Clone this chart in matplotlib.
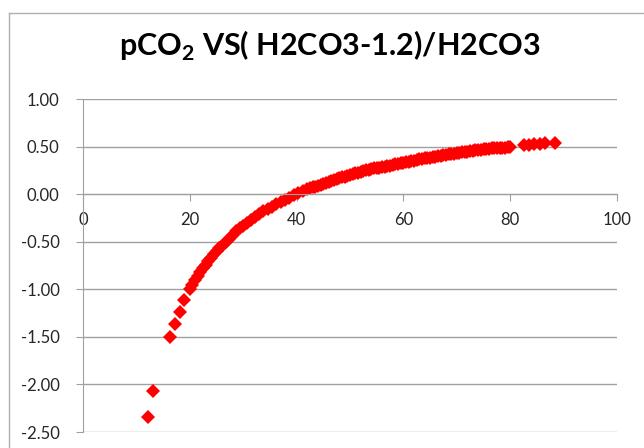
import matplotlib
matplotlib.use('Agg')
import matplotlib.pyplot as plt
from matplotlib.lines import Line2D

# pCO2 vs (H2CO3-1.2)/H2CO3
pco2 = [12.1, 13.1, 16.3, 17.2, 18.1, 19.0, 20.0,
        20.5, 21, 21.5, 22, 22.5, 23, 23.5, 24, 24.5, 25, 25.5, 26,
        26.7, 27.3, 28, 28.7, 29.4, 30, 30.8, 31.5, 32.3, 33, 33.8,
        34.6, 35.4, 36.2, 37, 37.8, 38.6, 39.5, 40.3, 41.2, 42, 42.5,
        43, 43.5, 44, 44.5, 45, 45.5, 46, 46.5, 47, 47.5, 48, 48.5,
        49, 49.5, 50, 50.5, 51, 51.5, 52, 52.5, 53, 53.5, 54, 54.5,
        55, 55.5, 56, 56.5, 57, 57.5, 58, 58.5, 59, 59.5, 60, 60.5,
        61, 61.5, 62, 62.5, 63, 63.5, 64, 64.5, 65, 65.5, 66, 66.5,
        67, 67.5, 68, 68.5, 69, 69.5, 70, 70.5, 71, 71.5, 72, 72.5,
        73, 73.5, 74, 74.5, 75, 75.5, 76, 76.5, 77, 77.5, 78, 78.5,
        79, 79.5, 80, 82.5, 83.5, 84.5, 85.5, 86.5, 88.3]
ratio = [-2.34, -2.07, -1.50, -1.37, -1.24, -1.11, -1.00,
         -0.95, -0.90, -0.86, -0.82, -0.78, -0.74, -0.70, -0.67, -0.63,
         -0.60, -0.57, -0.54, -0.50, -0.47, -0.43, -0.39, -0.36, -0.33,
         -0.30, -0.27, -0.24, -0.21, -0.18, -0.16, -0.13, -0.10, -0.08,
         -0.06, -0.04, -0.01, 0.01, 0.03, 0.05, 0.06,
         0.07, 0.08, 0.09, 0.10, 0.11, 0.12, 0.13, 0.14, 0.15, 0.16,
         0.17, 0.18, 0.18, 0.19, 0.20, 0.21, 0.22, 0.22, 0.23, 0.24,
         0.25, 0.25, 0.26, 0.27, 0.27, 0.28, 0.29, 0.29, 0.30, 0.30,
         0.31, 0.32, 0.32, 0.33, 0.33, 0.34, 0.34, 0.35, 0.35, 0.36,
         0.37, 0.37, 0.38, 0.38, 0.38, 0.39, 0.39, 0.40, 0.40, 0.41,
         0.41, 0.42, 0.42, 0.42, 0.43, 0.43, 0.44, 0.44, 0.44, 0.45,
         0.45, 0.46, 0.46, 0.46, 0.47, 0.47, 0.47, 0.48, 0.48, 0.48,
         0.49, 0.49, 0.49, 0.50, 0.50, 0.52, 0.52, 0.53, 0.53, 0.54, 0.54]

x_ticks = [0, 20, 40, 60, 80, 100]
y_ticks = [1.0, 0.5, 0.0, -0.5, -1.0, -1.5, -2.0, -2.5]

plt.rcParams['font.family'] = ['Lato', 'DejaVu Sans']
grey = '#a0a0a0'

fig = plt.figure(figsize=(6.44, 4.48), dpi=100)
ax = fig.add_axes([83/644, 1 - 432/448, (617-83)/644, (432-99)/448])

ax.plot(pco2, ratio, linestyle='none', marker='D', markersize=7.2,
        color='#ff0000', markeredgewidth=0)

ax.set_xlim(0, 100)
ax.set_ylim(-2.5, 1.0)
ax.set_xticks(x_ticks)
ax.set_yticks(y_ticks)
ax.set_yticklabels([f'{v:.2f}' for v in y_ticks])
ax.grid(axis='y', color=grey, linewidth=1)
ax.set_axisbelow(True)

for s in ['top', 'right']:
    ax.spines[s].set_visible(False)
ax.spines['bottom'].set_position(('data', 0))
ax.spines['bottom'].set_color(grey)
ax.spines['left'].set_color(grey)
ax.tick_params(axis='x', direction='out', length=5, color=grey, pad=8,
               labelsize=12, labelcolor='#262626')
ax.tick_params(axis='y', direction='out', length=5, color=grey, pad=12,
               labelsize=12, labelcolor='#262626')

fig.text(330/644, 1 - 46/448, r'pCO$_\mathregular{2}$ VS( H2CO3-1.2)/H2CO3',
         ha='center', va='center', fontsize=22, fontweight='bold')

# chart frame (cut off at bottom and right)
fig.add_artist(Line2D([8.5/644, 8.5/644], [0, 1 - 13/448], color='#b0b0b0', lw=1))
fig.add_artist(Line2D([8.5/644, 1], [1 - 13/448, 1 - 13/448], color='#b0b0b0', lw=1))

plt.savefig('out.png', dpi=100)
